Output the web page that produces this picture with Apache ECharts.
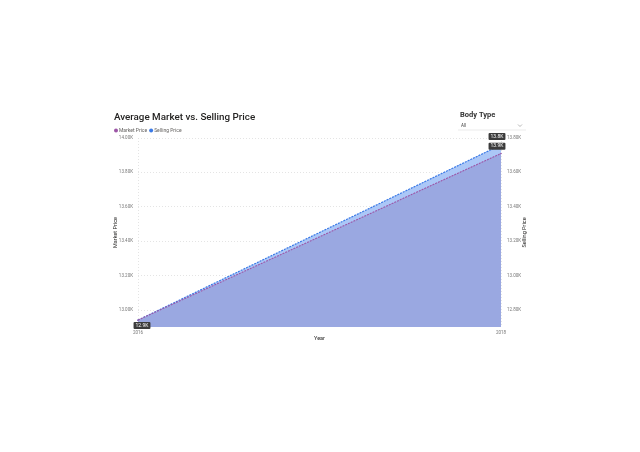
<!DOCTYPE html>
<html><head><meta charset="utf-8">
<script src="https://cdn.jsdelivr.net/npm/echarts@6/dist/echarts.min.js"></script>
<style>html,body{margin:0;padding:0;background:#fff}#c{width:640px;height:452px}</style>
</head><body><div id="c"></div>
<script>
const years = ['2016', '2018'];
const marketPrice = [12940, 13910];
const sellingPrice = [12740, 13760];
const leftTicks = [13000, 13200, 13400, 13600, 13800, 14000];
const rightTicks = [12800, 13000, 13200, 13400, 13600, 13800];

const fmtAxis = v => (v / 1000).toFixed(2) + 'K';
const fmtLbl = p => (p.value / 1000).toFixed(1) + 'K';
const lblBox = {show: true, formatter: fmtLbl, color: '#fff', backgroundColor: '#3b3b3b',
  fontSize: 5, fontFamily: 'Roboto', padding: [1, 2, 1, 2], borderRadius: 1};

const chart = echarts.init(document.getElementById('c'), null, {renderer: 'canvas'});
chart.setOption({
  backgroundColor: '#fff',
  animation: false,
  title: {text: 'Average Market vs. Selling Price', left: 109, top: 107.5,
    textStyle: {fontSize: 9.8, fontWeight: 500, color: '#252423', fontFamily: 'Roboto'}},
  legend: {data: ['Market Price', 'Selling Price'], left: 109, top: 123, icon: 'circle',
    itemWidth: 4, itemHeight: 4, itemGap: 2,
    textStyle: {fontSize: 5, color: '#605e5c', fontFamily: 'Roboto', padding: [0, 0, 0, -4]}},
  grid: {left: 138, right: 139, top: 138, bottom: 125},
  xAxis: {type: 'category', data: years, boundaryGap: false,
    name: 'Year', nameLocation: 'middle', nameGap: 7,
    nameTextStyle: {fontSize: 5.5, color: '#252423', fontFamily: 'Roboto'},
    axisLine: {show: false}, axisTick: {show: false},
    axisLabel: {fontSize: 4.5, color: '#777', margin: 3, fontFamily: 'Roboto'},
    splitLine: {show: true, lineStyle: {color: '#ddd', type: [1, 2], width: 0.8}}},
  yAxis: [
    {type: 'value', min: 12900, max: 14000, interval: 100, position: 'left',
      name: 'Market Price', nameLocation: 'middle', nameGap: 19, nameMoveOverlap: false,
      nameTextStyle: {fontSize: 5.5, color: '#252423', fontFamily: 'Roboto'},
      axisLine: {show: false}, axisTick: {show: false},
      axisLabel: {fontSize: 4.5, color: '#777', margin: 5, fontFamily: 'Roboto',
        formatter: v => leftTicks.includes(v) ? fmtAxis(v) : ''},
      splitLine: {show: true, lineStyle: {color: ['rgba(0,0,0,0)', '#ddd'], type: [1, 2], width: 0.8}}},
    {type: 'value', min: 12700, max: 13800, interval: 100, position: 'right',
      name: 'Selling Price', nameLocation: 'middle', nameGap: 21, nameRotate: 90, nameMoveOverlap: false,
      nameTextStyle: {fontSize: 5.5, color: '#252423', fontFamily: 'Roboto'},
      axisLine: {show: false}, axisTick: {show: false},
      axisLabel: {fontSize: 4.5, color: '#777', margin: 6, fontFamily: 'Roboto',
        formatter: v => rightTicks.includes(v) ? fmtAxis(v) : ''},
      splitLine: {show: false}}
  ],
  series: [
    {name: 'Selling Price', type: 'line', yAxisIndex: 1, z: 2,
      data: sellingPrice.map((v, i) => ({value: v,
        label: i === 1 ? Object.assign({}, lblBox, {position: 'top', distance: 4, offset: [-4, 0]}) : {show: false}})),
      symbol: 'circle', symbolSize: 1.5, itemStyle: {color: '#3b7ae6'},
      lineStyle: {color: '#3b7ae6', width: 1.2, type: [2, 1]},
      areaStyle: {color: '#abc7f7', opacity: 1}},
    {name: 'Market Price', type: 'line', yAxisIndex: 0, z: 3,
      data: marketPrice.map((v, i) => ({value: v,
        label: i === 0 ? Object.assign({}, lblBox, {position: 'bottom', distance: 1, offset: [4, 0]})
          : Object.assign({}, lblBox, {position: 'top', distance: 3, offset: [-4, 0]})})),
      symbol: 'circle', symbolSize: 1.5, itemStyle: {color: '#9c55a6'},
      lineStyle: {color: '#9c55a6', width: 1.1, type: [2, 1]},
      areaStyle: {color: '#9aa8e1', opacity: 1}}
  ],
  graphic: [
    {type: 'text', left: 460, top: 111, style: {text: 'Body Type', fontSize: 7.5, fontWeight: 'bold', fill: '#333', fontFamily: 'Roboto'}},
    {type: 'text', left: 461, top: 123, style: {text: 'All', fontSize: 4.5, fill: '#444', fontFamily: 'Roboto'}},
    {type: 'line', shape: {x1: 458, y1: 130, x2: 526, y2: 130}, style: {stroke: '#ddd', lineWidth: 0.6}},
    {type: 'polyline', shape: {points: [[518, 124.5], [520, 126.5], [522, 124.5]]}, style: {stroke: '#888', lineWidth: 0.6, fill: null}}
  ]
});
</script></body></html>
